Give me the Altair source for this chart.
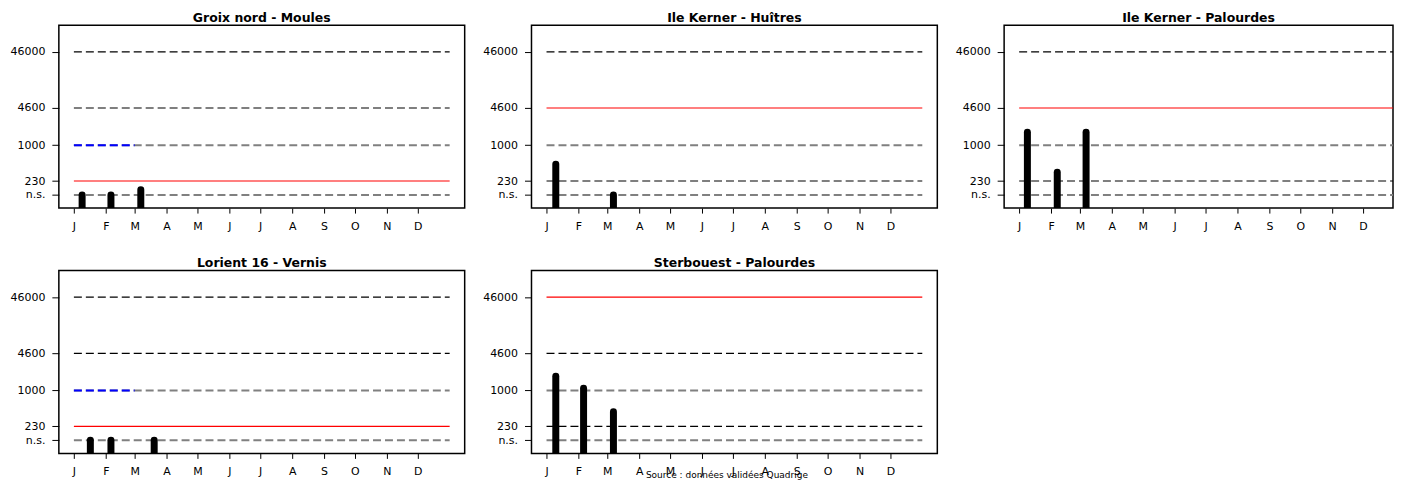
import altair as alt
import pandas as pd

# ---------------- data ----------------
panel_titles = ["Groix nord - Moules", "Ile Kerner - Huîtres", "Ile Kerner - Palourdes",
                "Lorient 16 - Vernis", "Sterbouest - Palourdes"]
thresholds = [230, 4600, 4600, 230, 46000]
has_blue = [True, False, False, True, False]

sample_dates = [
    ["2023-01-09", "2023-02-06", "2023-03-07"],
    ["2023-01-10", "2023-03-07"],
    ["2023-01-09", "2023-02-07", "2023-03-07"],
    ["2023-01-17", "2023-02-06", "2023-03-20"],
    ["2023-01-10", "2023-02-06", "2023-03-07"],
]
sample_values = [
    [130, 130, 160],
    [460, 130],
    [1700, 330, 1700],
    [130, 130, 130],
    [1800, 1100, 420],
]

level_values = [46000, 4600, 1000, 230, 130]
level_labels = ["46000", "4600", "1000", "230", "n.s."]
level_kind = ["thin", "thin", "thick", "thin", "thick"]

month_letters = ["J", "F", "M", "A", "M", "J", "J", "A", "S", "O", "N", "D"]
line_start = "2023-01-01"
line_end = "2024-01-01"
blue_end = "2023-03-01"
blue_level = 1000
bar_base = 50
source_text = "Source : données validées Quadrige"

FONT = "DejaVu Sans"
PANEL_H = 183.5

# ---------------- scales / axes ----------------
x_start = alt.DateTime(year=2022, month=12, date=17, hours=9, minutes=36, utc=True)
x_end_full = alt.DateTime(year=2024, month=1, date=15, hours=14, minutes=24, utc=True)
x_end_cut = alt.DateTime(year=2023, month=12, date=30, hours=2, minutes=24, utc=True)
yscale = alt.Scale(type="log", domain=[75.7, 137700], nice=False)

month_arr = "[" + ",".join("'%s'" % m for m in month_letters) + "]"
xaxis = alt.Axis(values=[alt.DateTime(year=2023, month=m, date=1, utc=True) for m in range(1, 13)],
                 labelExpr=month_arr + "[utcmonth(datum.value)]",
                 title=None, grid=False, domain=False, ticks=True, tickSize=5,
                 tickColor="black", labelColor="black", labelFont=FONT, labelFontSize=11,
                 labelPadding=7.5, labelAngle=0, labelFlush=False, labelOverlap=False,
                 minExtent=22, maxExtent=22)

lab_arr = "[" + ",".join("'%s'" % l for l in level_labels) + "]"
val_arr = "[" + ",".join(str(v) for v in level_values) + "]"
yaxis = alt.Axis(values=level_values,
                 labelExpr=lab_arr + "[indexof(" + val_arr + ", datum.value)]",
                 title=None, grid=False, domain=False, ticks=True, tickSize=7,
                 tickColor="black", labelColor="black", labelFont=FONT, labelFontSize=11,
                 labelPadding=7, labelFlush=False, labelOverlap=False,
                 minExtent=50, maxExtent=50)


def panel(i, width=407, x_end=x_end_full):
    rows = []
    for v, k in zip(level_values, level_kind):
        kind = "red" if v == thresholds[i] else k
        rows.append({"x": line_start, "x2": line_end, "y": v, "kind": kind})
    if has_blue[i]:
        rows.append({"x": line_start, "x2": blue_end, "y": blue_level, "kind": "blue"})
    for d, v in zip(sample_dates[i], sample_values[i]):
        rows.append({"x": d, "x2": d, "y": v, "kind": "bar"})
    df = pd.DataFrame(rows)

    xscale = alt.Scale(type="utc", domain=[x_start, x_end], nice=False)
    base = alt.Chart(df).encode(
        x=alt.X("x:T", scale=xscale, axis=xaxis),
        y=alt.Y("y:Q", scale=yscale, axis=yaxis),
    )
    thin = base.mark_rule(color="black", strokeWidth=1.2, strokeDash=[8, 4], clip=True).encode(
        x2="x2:T").transform_filter("datum.kind == 'thin'")
    thick = base.mark_rule(color="#808080", strokeWidth=2, strokeDash=[8, 4], clip=True).encode(
        x2="x2:T").transform_filter("datum.kind == 'thick'")
    red = base.mark_rule(color="#ff0000", strokeWidth=1.2, clip=True).encode(
        x2="x2:T").transform_filter("datum.kind == 'red'")
    layers = [thin, thick, red]
    if has_blue[i]:
        blue = base.mark_rule(color="#0000ff", strokeWidth=2, strokeDash=[8, 4], clip=True).encode(
            x2="x2:T").transform_filter("datum.kind == 'blue'")
        layers.append(blue)
    bars = base.mark_rule(color="black", strokeWidth=7, strokeCap="round", clip=True).encode(
        y2=alt.datum(bar_base)).transform_filter("datum.kind == 'bar'")
    layers.append(bars)

    return alt.layer(*layers).properties(
        width=width, height=PANEL_H,
        title=alt.TitleParams(panel_titles[i], font=FONT, fontSize=12.5, fontWeight="bold",
                              color="black", anchor="middle", offset=0.5),
    )


row1 = alt.hconcat(panel(0), panel(1), panel(2, width=390, x_end=x_end_cut), spacing=15)
row2 = alt.hconcat(panel(3), panel(4), spacing=15)

chart = alt.vconcat(row1, row2, spacing=24).properties(
    padding={"left": 0, "top": 2.5, "right": 0, "bottom": 0},
    title=alt.TitleParams(source_text, orient="bottom", anchor="middle", font=FONT,
                          fontSize=9, fontWeight="normal", color="black", offset=-7, dx=26),
).configure(font=FONT).configure_axis(
    labelFont=FONT, labelFontSize=11, labelColor="black"
).configure_view(stroke="black", strokeWidth=1.5)

chart.save("out.html", embed_options={"renderer": "svg", "actions": False})
